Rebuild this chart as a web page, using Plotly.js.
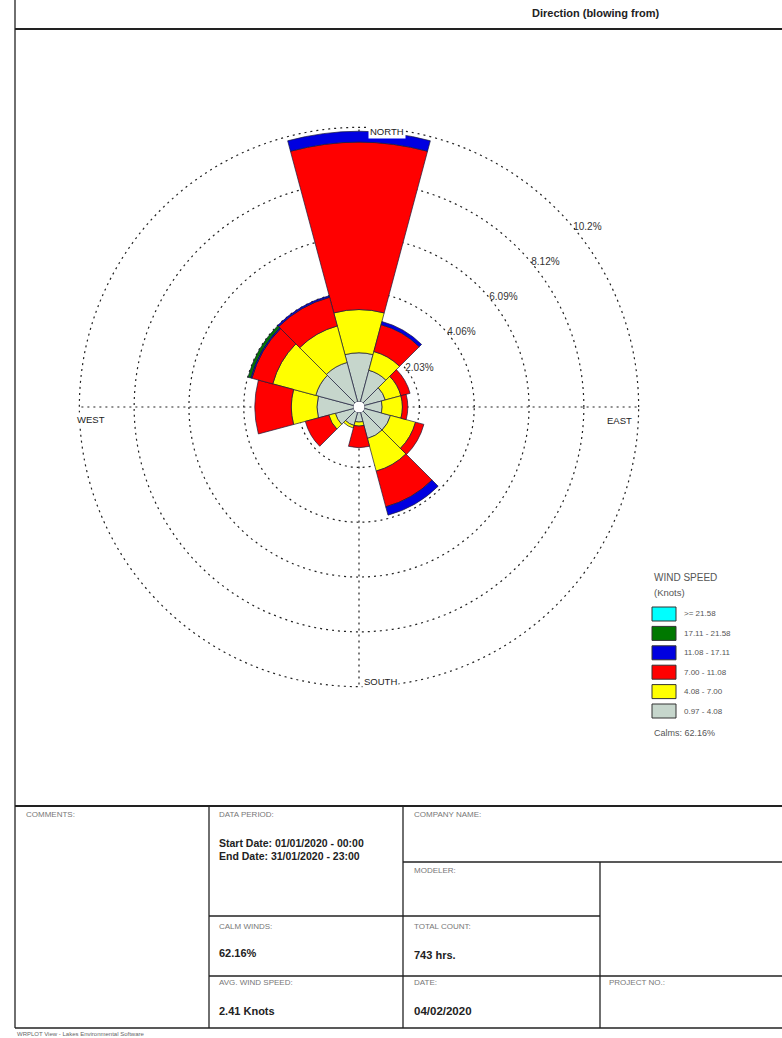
<!DOCTYPE html>
<html>
<head>
<meta charset="utf-8">
<script src="https://cdn.plot.ly/plotly-3.0.1.min.js"></script>
<style>
html,body{margin:0;padding:0;background:#fff;}
#chart{width:782px;height:1038px;}
</style>
</head>
<body>
<div id="chart"></div>
<script>
// ---- data ----
const directions = [0, 30, 60, 90, 120, 150, 180, 210, 240, 270, 300, 330];
const speedClasses = ['0.97 - 4.08', '4.08 - 7.00', '7.00 - 11.08', '11.08 - 17.11', '17.11 - 21.58', '>= 21.58'];
const classColors = ['#c6d6cc', '#ffff00', '#ff0000', '#0000e0', '#007800', '#00ffff'];
const pct_0_97_4_08   = [1.80, 1.20, 0.80, 0.65, 1.00, 1.00, 0.35, 0.50, 0.70, 1.35, 1.45, 1.50];
const pct_4_08_7_00   = [1.60, 0.72, 0.60, 0.75, 0.96, 1.25, 0.15, 0.10, 0.25, 0.95, 1.65, 1.40];
const pct_7_00_11_08  = [6.20, 1.03, 0.35, 0.20, 0.32, 1.37, 0.80, 0.00, 0.90, 1.35, 0.80, 1.10];
const pct_11_08_17_11 = [0.40, 0.12, 0.00, 0.00, 0.00, 0.32, 0.00, 0.00, 0.00, 0.00, 0.05, 0.06];
const pct_17_11_21_58 = [0.00, 0.00, 0.00, 0.00, 0.00, 0.00, 0.00, 0.00, 0.00, 0.00, 0.10, 0.00];
const pct_ge_21_58    = [0.00, 0.00, 0.00, 0.00, 0.00, 0.00, 0.00, 0.00, 0.00, 0.00, 0.00, 0.00];
const ringValues = [2.03, 4.06, 6.09, 8.12, 10.15];
const ringLabels = ['2.03%', '4.06%', '6.09%', '8.12%', '10.2%'];
const cardinalLabels = ['NORTH', 'EAST', 'SOUTH', 'WEST'];
const calmsText = 'Calms: 62.16%';
const headerText = 'Direction (blowing from)';
const startDate = 'Start Date: 01/01/2020 - 00:00';
const endDate = 'End Date: 31/01/2020 - 23:00';
const calmWinds = '62.16%';
const avgWindSpeed = '2.41 Knots';
const totalCount = '743 hrs.';
const reportDate = '04/02/2020';

// ---- helpers (page pixel -> paper) ----
const W = 782, H = 1038;
const px = x => x / W;
const py = y => 1 - y / H;
const FONT = 'Liberation Sans, Arial, sans-serif';

const series = [pct_0_97_4_08, pct_4_08_7_00, pct_7_00_11_08, pct_11_08_17_11, pct_17_11_21_58, pct_ge_21_58];
const traces = series.map((vals, i) => ({
  type: 'barpolar',
  r: vals,
  theta: directions,
  width: directions.map(() => 30),
  name: speedClasses[i],
  marker: {color: classColors[i], line: {color: '#1b1b3a', width: 0.7}},
  showlegend: false,
  hoverinfo: 'skip'
}));

traces.push({
  type: 'scatterpolar', mode: 'text',
  r: ringValues, theta: ringValues.map(() => 50),
  text: ringLabels, textposition: 'middle right',
  textfont: {family: FONT, size: 10, color: '#333'},
  showlegend: false, hoverinfo: 'skip'
});

const line = (x0, y0, x1, y1, w) => ({type: 'line', xref: 'paper', yref: 'paper',
  x0: px(x0), y0: py(y0), x1: px(x1), y1: py(y1), line: {color: '#222', width: w || 1.3}});

const shapes = [
  line(15, 29, 782, 29, 2),
  line(15, 0, 15, 1028, 1.3),
  line(15, 806, 782, 806, 2),
  line(15, 1028, 782, 1028, 1.5),
  line(209, 806, 209, 1028),
  line(403, 806, 403, 1028),
  line(600, 862, 600, 1028),
  line(403, 862, 782, 862),
  line(209, 916, 600, 916),
  line(209, 976, 782, 976)
];

const ann = (x, y, text, size, color, opts) => Object.assign({
  xref: 'paper', yref: 'paper', x: px(x), y: py(y), text: text,
  showarrow: false, xanchor: 'left', yanchor: 'middle',
  font: {family: FONT, size: size, color: color}
}, opts || {});

const annotations = [
  ann(595, 13, '<b>' + headerText + '</b>', 11, '#222', {xanchor: 'center'}),
  ann(24, 814, 'COMMENTS:', 8, '#777'),
  ann(217, 814, 'DATA PERIOD:', 8, '#777'),
  ann(412, 814, 'COMPANY NAME:', 8, '#777'),
  ann(412, 870, 'MODELER:', 8, '#777'),
  ann(217, 843, '<b>' + startDate + '</b>', 10.5, '#222'),
  ann(217, 856, '<b>' + endDate + '</b>', 10.5, '#222'),
  ann(217, 926, 'CALM WINDS:', 8, '#777'),
  ann(217, 953, '<b>' + calmWinds + '</b>', 11, '#222'),
  ann(412, 926, 'TOTAL COUNT:', 8, '#777'),
  ann(412, 955, '<b>' + totalCount + '</b>', 11, '#222'),
  ann(217, 982, 'AVG. WIND SPEED:', 8, '#777'),
  ann(217, 1011, '<b>' + avgWindSpeed + '</b>', 11, '#222'),
  ann(412, 982, 'DATE:', 8, '#777'),
  ann(412, 1011, '<b>' + reportDate + '</b>', 11.5, '#222'),
  ann(607, 982, 'PROJECT NO.:', 8, '#777'),
  ann(15, 1034, 'WRPLOT View - Lakes Environmental Software', 6, '#666'),
  ann(652, 577, 'WIND SPEED', 10, '#555'),
  ann(652, 592, '(Knots)', 9.5, '#555'),
  ann(652, 733, calmsText, 9, '#555'),
  // compass labels on the outer ring
  ann(368, 131, cardinalLabels[0], 9.5, '#222', {bgcolor: '#fff', borderpad: 1}),
  ann(634, 420, cardinalLabels[1], 9.5, '#222', {xanchor: 'right', bgcolor: '#fff', borderpad: 1}),
  ann(362, 681, cardinalLabels[2], 9.5, '#222', {bgcolor: '#fff', borderpad: 1}),
  ann(75, 419, cardinalLabels[3], 9.5, '#222', {bgcolor: '#fff', borderpad: 1})
];

// legend (top item = highest class)
for (let k = 0; k < speedClasses.length; k++) {
  const i = speedClasses.length - 1 - k;
  const top = 607 + k * 19.4;
  shapes.push({type: 'rect', xref: 'paper', yref: 'paper',
    x0: px(652), x1: px(676), y0: py(top + 14), y1: py(top),
    fillcolor: classColors[i], line: {color: '#333', width: 1}});
  annotations.push(ann(682, top + 7, speedClasses[i], 8, '#555'));
}

const layout = {
  width: W, height: H,
  margin: {l: 0, r: 0, t: 0, b: 0},
  paper_bgcolor: '#fff',
  showlegend: false,
  polar: {
    domain: {x: [px(78), px(640)], y: [py(688), py(126)]},
    hole: 0.02,
    bgcolor: 'rgba(0,0,0,0)',
    barmode: 'stack',
    bargap: 0,
    angularaxis: {
      rotation: 90, direction: 'clockwise',
      tickmode: 'array', tickvals: [0, 90, 180, 270],
      showticklabels: false, ticks: '',
      showgrid: true, gridcolor: '#222', griddash: '2px,4px', gridwidth: 1.2,
      showline: false
    },
    radialaxis: {
      range: [0, 10.2],
      tickmode: 'array', tickvals: ringValues,
      showticklabels: false, ticks: '',
      showgrid: true, gridcolor: '#222', griddash: '2px,4px', gridwidth: 1.2,
      showline: false
    }
  },
  shapes: shapes,
  annotations: annotations
};

Plotly.newPlot('chart', traces, layout, {staticPlot: true, displayModeBar: false});
</script>
</body>
</html>
